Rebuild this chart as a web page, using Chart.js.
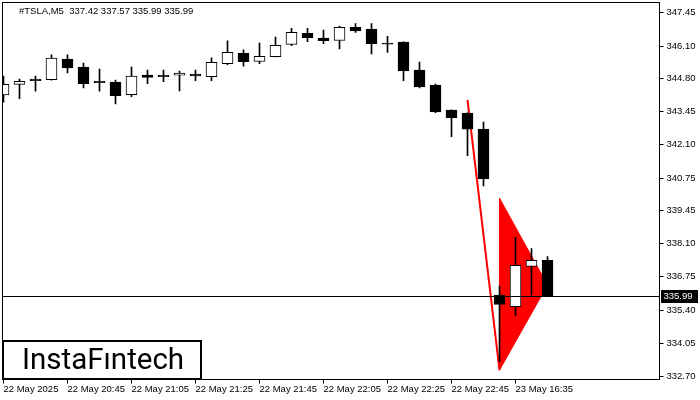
<!DOCTYPE html>
<html>
<head>
<meta charset="utf-8">
<script src="https://cdn.jsdelivr.net/npm/chart.js@4.4.0/dist/chart.umd.min.js"></script>
<style>
  html, body { margin: 0; padding: 0; background: #fff; }
  #wrap { width: 700px; height: 400px; }
</style>
</head>
<body>
<div id="wrap"><canvas id="chart" width="700" height="400"></canvas></div>
<script>
const symbol = '#TSLA,M5';

// M5 candles, oldest first
const opens  = [344.12, 344.55, 344.77, 344.74, 345.58, 345.25, 344.68, 344.64, 344.13, 344.93,
                344.93, 344.92, 344.97, 344.86, 345.39, 345.81, 345.48, 345.67, 346.17, 346.62,
                346.43, 346.33, 346.86, 346.79, 346.18, 346.27, 345.13, 344.52, 343.51, 343.39,
                342.74, 336.01, 335.54, 337.17, 337.42];
const highs  = [344.89, 344.77, 344.89, 345.75, 345.75, 345.41, 345.17, 344.73, 345.25, 345.13,
                345.13, 345.09, 345.13, 345.63, 346.32, 345.95, 346.23, 346.47, 346.82, 346.82,
                346.75, 346.91, 347.02, 347.02, 346.50, 346.28, 345.46, 344.56, 343.52, 343.40,
                343.02, 336.38, 338.35, 337.90, 337.57];
const lows   = [343.83, 343.97, 344.28, 344.72, 345.02, 344.41, 344.28, 343.76, 344.05, 344.58,
                344.66, 344.29, 344.70, 344.70, 345.35, 345.29, 345.39, 345.66, 346.12, 346.28,
                346.20, 345.99, 346.66, 345.79, 345.85, 344.70, 344.41, 343.40, 342.43, 341.66,
                340.44, 333.31, 335.17, 336.01, 335.99];
const closes = [344.55, 344.67, 344.70, 345.62, 345.22, 344.58, 344.62, 344.09, 344.89, 344.83,
                344.86, 345.01, 344.89, 345.44, 345.85, 345.47, 345.69, 346.13, 346.66, 346.44,
                346.32, 346.86, 346.72, 346.20, 346.18, 345.10, 344.45, 343.44, 343.20, 342.74,
                340.72, 335.63, 337.22, 337.42, 335.99];

// one label every 4 bars
const xTickLabels = ['22 May 2025', '22 May 20:45', '22 May 21:05', '22 May 21:25', '22 May 21:45',
                     '22 May 22:05', '22 May 22:25', '22 May 22:45', '23 May 16:35'];
const yTickLabels = ['332.70', '334.05', '335.40', '336.75', '338.10', '339.45',
                     '340.75', '342.10', '343.45', '344.80', '346.10', '347.45'];

// bearish pennant: flagpole and pennant (bar index, price)
const poleBar = [29, 31];
const polePrice = [343.92, 332.97];
const pennantBar = [31, 31, 34, 31];
const pennantPrice = [339.94, 332.97, 336.42, 339.94];

const wicks = lows.map((l, i) => ({ x: i, y: [l, highs[i]] }));
const bodies = opens.map((o, i) => ({ x: i, y: [o, closes[i]] }));
const bodyFill = opens.map((o, i) => closes[i] > o ? '#ffffff' : '#000000');
const pole = poleBar.map((b, i) => ({ x: b, y: polePrice[i] }));
const pennant = pennantBar.map((b, i) => ({ x: b, y: pennantPrice[i] }));

const axisFont = { family: 'Liberation Sans', size: 9.5 };

const overlay = {
  id: 'overlay',
  afterDatasetsDraw(chart) {
    const { ctx, chartArea: a, scales: { y } } = chart;
    const last = closes[closes.length - 1];
    const py = Math.round(y.getPixelForValue(last)) + 0.5;
    ctx.save();
    ctx.strokeStyle = '#000';
    ctx.lineWidth = 1;
    ctx.beginPath();
    ctx.moveTo(a.left, py);
    ctx.lineTo(a.right, py);
    ctx.stroke();
    ctx.strokeRect(a.left, a.top, a.right - a.left, a.bottom - a.top);
    ctx.restore();
  },
  afterDraw(chart) {
    const { ctx, chartArea: a, scales: { y } } = chart;
    const n = closes.length - 1;
    const last = closes[n];
    const py = Math.round(y.getPixelForValue(last));
    ctx.save();
    // price tag
    ctx.fillStyle = '#000';
    ctx.fillRect(a.right + 1.5, py - 6, 37, 13);
    ctx.fillStyle = '#fff';
    ctx.font = '9.5px "Liberation Sans"';
    ctx.textBaseline = 'middle';
    ctx.fillText(last.toFixed(2), a.right + 4, py + 0.5);
    // header
    ctx.fillStyle = '#000';
    ctx.textBaseline = 'alphabetic';
    ctx.fillText(symbol + '  ' + [opens[n], highs[n], lows[n], closes[n]].map(v => v.toFixed(2)).join(' '), 19, 14);
    // logo
    ctx.fillStyle = '#fff';
    ctx.fillRect(3, 341, 198, 38);
    ctx.lineWidth = 2;
    ctx.strokeRect(3, 341, 198, 38);
    ctx.fillStyle = '#000';
    ctx.font = '29.5px Roboto';
    ctx.fillText('InstaF\u0131ntech', 22, 369);
    ctx.restore();
  }
};

new Chart(document.getElementById('chart'), {
  type: 'bar',
  data: {
    datasets: [{
      label: 'pennant',
      type: 'line',
      data: pennant,
      fill: 'shape',
      backgroundColor: '#ff0000',
      borderColor: '#ff0000',
      borderWidth: 1,
      pointRadius: 0,
      order: 10
    }, {
      label: 'pole',
      type: 'line',
      data: pole,
      fill: false,
      borderColor: '#ff0000',
      borderWidth: 2,
      pointRadius: 0,
      order: 9
    }, {
      label: 'wick',
      data: wicks,
      backgroundColor: '#000',
      barThickness: 1,
      grouped: false,
      order: 2
    }, {
      label: 'body',
      data: bodies,
      backgroundColor: bodyFill,
      borderColor: '#000',
      borderWidth: 1,
      borderSkipped: false,
      barThickness: 11,
      minBarLength: 1,
      grouped: false,
      order: 1
    }]
  },
  options: {
    responsive: false,
    animation: false,
    devicePixelRatio: 1,
    layout: { padding: { left: 2.5, top: 2.5, right: 0, bottom: 0 } },
    plugins: { legend: { display: false }, tooltip: { enabled: false } },
    scales: {
      x: {
        type: 'linear',
        min: -0.0625,
        max: 41,
        offset: false,
        border: { display: false },
        grid: { drawOnChartArea: false, drawTicks: true, tickLength: 4, color: '#000', offset: false },
        afterBuildTicks: s => { s.ticks = xTickLabels.map((_, k) => ({ value: k * 4 })); },
        afterFit: s => { s.height = 20.5; s.paddingLeft = 0; s.paddingRight = 0; },
        ticks: {
          autoSkip: false,
          maxRotation: 0,
          align: 'start',
          padding: 0,
          color: '#000',
          font: axisFont,
          callback: (v, i) => xTickLabels[i]
        }
      },
      y: {
        type: 'linear',
        position: 'right',
        min: 332.59,
        max: 347.87,
        border: { display: false },
        grid: { drawOnChartArea: false, drawTicks: true, tickLength: 4, color: '#000' },
        afterBuildTicks: s => { s.ticks = yTickLabels.map(t => ({ value: parseFloat(t) })); },
        afterFit: s => { s.width = 40.5; s.paddingTop = 0; s.paddingBottom = 0; },
        ticks: {
          autoSkip: false,
          padding: 3,
          color: '#000',
          font: axisFont,
          callback: (v, i) => yTickLabels[i]
        }
      }
    }
  },
  plugins: [overlay]
});
</script>
</body>
</html>
